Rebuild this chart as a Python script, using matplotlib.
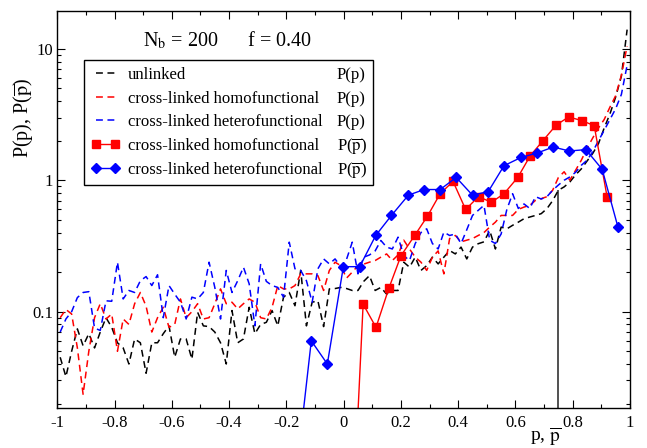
import numpy as np
import matplotlib
matplotlib.use('Agg')
import matplotlib.pyplot as plt
from matplotlib.ticker import MultipleLocator, FuncFormatter

plt.rcParams['font.family'] = ['Liberation Serif', 'DejaVu Serif']
plt.rcParams['mathtext.fontset'] = 'stix'
plt.rcParams['axes.unicode_minus'] = False

# bin centres of the dashed P(p) curves
p = np.round(np.arange(-0.99, 1.0, 0.02), 2)

P_unlinked = [
    0.045, 0.032, 0.050, 0.074, 0.055, 0.068, 0.053, 0.070, 0.090, 0.076,
    0.058, 0.053, 0.040, 0.062, 0.058, 0.034, 0.058, 0.058, 0.068, 0.078,
    0.045, 0.062, 0.062, 0.0435, 0.099, 0.078, 0.077, 0.070, 0.058, 0.040,
    0.102, 0.058, 0.062, 0.108, 0.068, 0.080, 0.083, 0.102, 0.078, 0.129,
    0.140, 0.111, 0.206, 0.078, 0.118, 0.121, 0.077, 0.149, 0.150, 0.153,
    0.150, 0.145, 0.145, 0.170, 0.188, 0.145, 0.153, 0.136, 0.145, 0.145,
    0.238, 0.218, 0.260, 0.206, 0.224, 0.260, 0.231, 0.260, 0.292, 0.275,
    0.310, 0.252, 0.310, 0.329, 0.340, 0.415, 0.300, 0.440, 0.427, 0.454,
    0.48, 0.51, 0.525, 0.54, 0.557, 0.608, 0.70, 0.84, 0.89, 0.97,
    1.1, 1.22, 1.4, 1.6, 1.9, 2.5, 3.2, 4.3, 6.2, 14.0]

P_homo = [
    0.090, 0.104, 0.096, 0.053, 0.0235, 0.050, 0.090, 0.115, 0.088, 0.096,
    0.050, 0.088, 0.080, 0.115, 0.140, 0.110, 0.070, 0.090, 0.108, 0.076,
    0.080, 0.125, 0.090, 0.100, 0.115, 0.088, 0.090, 0.115, 0.149, 0.115,
    0.118, 0.105, 0.115, 0.125, 0.118, 0.090, 0.088, 0.108, 0.158, 0.149,
    0.149, 0.158, 0.194, 0.194, 0.194, 0.188, 0.145, 0.206, 0.238, 0.224,
    0.180, 0.200, 0.224, 0.230, 0.238, 0.245, 0.260, 0.275, 0.245, 0.270,
    0.350, 0.300, 0.260, 0.238, 0.206, 0.260, 0.290, 0.194, 0.360, 0.380,
    0.340, 0.350, 0.360, 0.380, 0.400, 0.440, 0.480, 0.540, 0.540, 0.540,
    0.600, 0.625, 0.644, 0.703, 0.724, 0.750, 0.840, 1.05, 1.16, 1.00,
    1.19, 1.42, 1.75, 2.1, 2.5, 2.9, 3.6, 4.4, 6.3, 10.5]

P_hetero = [
    0.070, 0.088, 0.100, 0.128, 0.140, 0.142, 0.075, 0.072, 0.121, 0.120,
    0.238, 0.125, 0.145, 0.140, 0.172, 0.185, 0.158, 0.191, 0.090, 0.158,
    0.136, 0.118, 0.088, 0.129, 0.125, 0.140, 0.238, 0.153, 0.088, 0.206,
    0.140, 0.172, 0.218, 0.163, 0.078, 0.231, 0.170, 0.158, 0.153, 0.129,
    0.338, 0.212, 0.206, 0.172, 0.118, 0.212, 0.252, 0.231, 0.252, 0.220,
    0.250, 0.338, 0.194, 0.260, 0.270, 0.290, 0.348, 0.310, 0.300, 0.369,
    0.267, 0.245, 0.330, 0.400, 0.427, 0.330, 0.300, 0.403, 0.380, 0.390,
    0.330, 0.420, 0.540, 0.590, 0.644, 0.350, 0.330, 0.390, 0.600, 0.790,
    0.610, 0.660, 0.610, 0.750, 0.720, 0.750, 0.840, 0.920, 1.00, 1.06,
    1.15, 1.30, 1.42, 1.65, 2.0, 2.4, 2.9, 3.5, 4.5, 7.5]

# P(pbar) with symbols
pbar_homo = [0.023, 0.068, 0.113, 0.158, 0.200, 0.248, 0.292, 0.337, 0.382, 0.426,
             0.471, 0.516, 0.560, 0.608, 0.652, 0.696, 0.742, 0.786, 0.833, 0.875, 0.920]
Pbar_homo = [0.001, 0.114, 0.076, 0.151, 0.266, 0.38, 0.53, 0.79, 0.98, 0.60,
             0.75, 0.68, 0.79, 1.05, 1.54, 2.0, 2.63, 3.03, 2.84, 2.6, 0.75]

pbar_hetero = [-0.169, -0.113, -0.057, -0.001, 0.056, 0.112, 0.167, 0.226, 0.281, 0.337,
               0.393, 0.450, 0.505, 0.560, 0.619, 0.675, 0.732, 0.788, 0.846, 0.903, 0.958]
Pbar_hetero = [0.005, 0.060, 0.040, 0.22, 0.22, 0.38, 0.54, 0.77, 0.85, 0.85,
               1.05, 0.77, 0.82, 1.29, 1.49, 1.61, 1.79, 1.67, 1.71, 1.21, 0.44]

N_b = 200
f = 0.40
p_mark = 0.747
P_mark = 0.84

labels = ['unlinked', 'cross-linked homofunctional', 'cross-linked heterofunctional',
          'cross-linked homofunctional', 'cross-linked heterofunctional']
right_labels = ['P(p)', 'P(p)', 'P(p)',
                r'P($\overline{\mathrm{p}}$)', r'P($\overline{\mathrm{p}}$)']

fig = plt.figure(figsize=(6.47, 4.48), dpi=100)
ax = fig.add_axes([0.0886, 0.0893, 0.8851, 0.8868])

dash = (0, (4.5, 3))
ax.vlines(p_mark, 1e-3, P_mark, colors='#333333', lw=1.2, zorder=1)
ax.plot(p, P_unlinked, color='black', ls=dash, lw=1.1, label=labels[0])
ax.plot(p, P_homo, color='red', ls=dash, lw=1.1, label=labels[1])
ax.plot(p, P_hetero, color='blue', ls=dash, lw=1.1, label=labels[2])
ax.plot(pbar_homo, Pbar_homo, color='red', marker='s', ms=6, lw=1.0, label=labels[3])
ax.plot(pbar_hetero, Pbar_hetero, color='blue', marker='D', ms=5.5, lw=1.0, label=labels[4])

ax.set_yscale('log')
ax.set_xlim(-1, 1)
ax.set_ylim(0.0185, 19.5)

ax.xaxis.set_major_locator(MultipleLocator(0.2))
ax.xaxis.set_minor_locator(MultipleLocator(0.1))
fmt = FuncFormatter(lambda v, pos: '%g' % round(v, 6))
ax.xaxis.set_major_formatter(fmt)
ax.yaxis.set_major_formatter(fmt)
ax.yaxis.set_minor_formatter(FuncFormatter(lambda v, pos: ''))
ax.tick_params(which='both', direction='in', top=True, right=True, width=0.8)
ax.tick_params(which='major', length=6, labelsize=12)
ax.tick_params(axis='x', which='major', pad=5)
ax.tick_params(axis='y', which='major', pad=3)
ax.tick_params(which='minor', length=3)
for s in ax.spines.values():
    s.set_linewidth(1.0)

ax.set_xlabel(r'p, $\overline{\mathrm{p}}$', fontsize=14)
ax.xaxis.set_label_coords(0.853, -0.045)
ax.set_ylabel(r'P(p), P($\overline{\mathrm{p}}$)', fontsize=14.5)
ax.yaxis.set_label_coords(-0.039, 0.73)

ax.text(0.298, 0.911, 'N$_\\mathrm{b}$ = %d      f = %.2f' % (N_b, f),
        transform=ax.transAxes, ha='center', va='baseline', fontsize=14.5)

leg = ax.legend(loc='upper left', bbox_to_anchor=(0.047, 0.556, 0.504, 0.32),
                mode='expand', numpoints=2, handlelength=1.75, handletextpad=0.45,
                borderpad=0.42, labelspacing=0.46, fontsize=12, frameon=True,
                fancybox=False, edgecolor='black', framealpha=1, borderaxespad=0)
leg.get_frame().set_linewidth(1.0)

# second column of the legend
fig.canvas.draw()
renderer = fig.canvas.get_renderer()
inv = ax.transAxes.inverted()
for t, s in zip(leg.get_texts(), right_labels):
    bb = t.get_window_extent(renderer)
    _, _, d = renderer.get_text_width_height_descent('lp', t.get_fontproperties(), ismath=False)
    y = inv.transform((0, bb.y0 + d))[1]
    ax.text(0.488, y, s, transform=ax.transAxes, fontsize=12, ha='left', va='baseline', zorder=6)

fig.savefig('out.png', dpi=100)
